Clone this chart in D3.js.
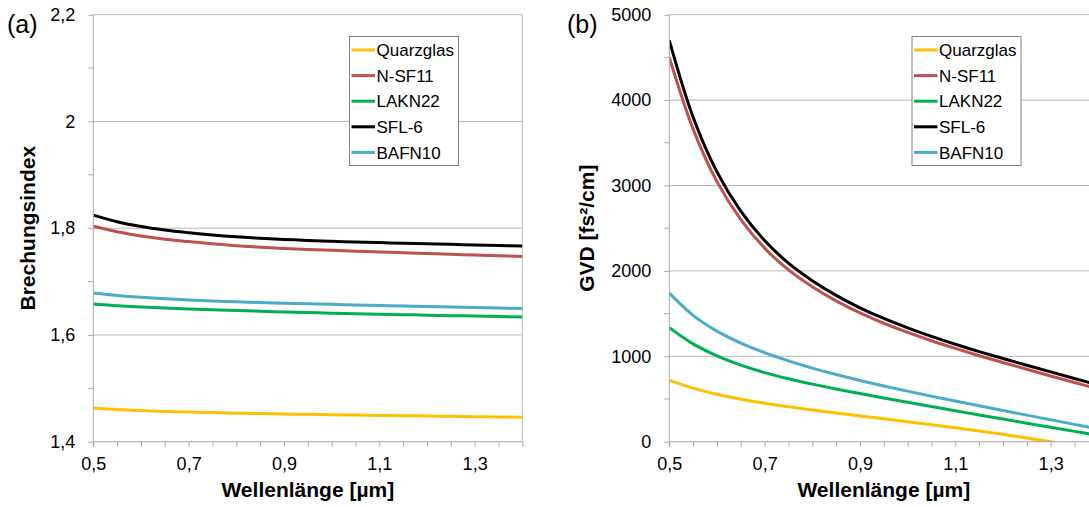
<!DOCTYPE html>
<html><head><meta charset="utf-8">
<script src="https://cdn.jsdelivr.net/npm/d3@7"></script>
<style>
html,body{margin:0;padding:0;background:#fff;}
svg{display:block;font-family:"Liberation Sans",Arial,sans-serif;}
</style></head>
<body>
<svg id="chart" width="1089" height="507"></svg>
<script>
// ---------- data ----------
const wavelengths = [0.5,0.55,0.6,0.65,0.7,0.75,0.8,0.85,0.9,0.95,1.0,1.05,1.1,1.15,1.2,1.25,1.3,1.35,1.4];
const seriesNames = ["Quarzglas","N-SF11","LAKN22","SFL-6","BAFN10"];
const seriesColors = ["#FFC000","#C0504D","#00B050","#000000","#4BACC6"];

// (a) refractive index
const nQuarzglas = [1.4632,1.4603,1.4583,1.4567,1.4555,1.4545,1.4535,1.4527,1.4519,1.4512,1.4505,1.4498,1.4492,1.4487,1.4481,1.4475,1.4469,1.4464,1.4458];
const nNSF11     = [1.8035,1.7935,1.7855,1.7795,1.7750,1.7707,1.7672,1.7644,1.7620,1.7601,1.7585,1.7570,1.7555,1.7540,1.7525,1.7511,1.7497,1.7483,1.7470];
const nLAKN22    = [1.6580,1.6548,1.6523,1.6503,1.6487,1.6472,1.6458,1.6445,1.6432,1.6420,1.6408,1.6398,1.6388,1.6380,1.6371,1.6362,1.6354,1.6346,1.6338];
const nSFL6      = [1.8245,1.8120,1.8030,1.7965,1.7915,1.7872,1.7838,1.7812,1.7790,1.7771,1.7755,1.7742,1.7730,1.7718,1.7707,1.7697,1.7687,1.7677,1.7667];
const nBAFN10    = [1.6785,1.6740,1.6705,1.6678,1.6655,1.6636,1.6620,1.6607,1.6595,1.6584,1.6573,1.6563,1.6553,1.6544,1.6535,1.6525,1.6515,1.6505,1.6495];

// (b) GVD [fs²/cm]
const gvdQuarzglas = [722,627,555,498,451,410,372,336,302,268,234,199,163,126,86,44,-1,-48,-97];
const gvdNSF11     = [4500,3660,3045,2600,2267,2012,1815,1649,1508,1387,1280,1182,1092,1007,927,848,770,693,617];
const gvdLAKN22    = [1335,1145,1005,897,809,737,674,617,564,512,461,411,362,313,265,217,169,121,73];
const gvdSFL6      = [4700,3800,3160,2700,2355,2090,1885,1713,1568,1443,1333,1233,1141,1055,974,895,817,740,664];
const gvdBAFN10    = [1740,1480,1295,1155,1043,947,862,786,717,653,592,533,476,420,365,311,257,203,149];

const xTickLabels = [0.5,0.7,0.9,1.1,1.3];
const xMinorStep = 0.05;
const yTicksA = [1.4,1.6,1.8,2.0,2.2];
const yMinorA = [1.5,1.7,1.9,2.1];
const yTicksB = [0,1000,2000,3000,4000,5000];
const yMinorB = [500,1500,2500,3500,4500];

// ---------- drawing ----------
const svg = d3.select("#chart");
const loc = d3.formatLocale({decimal:",",thousands:"",grouping:[3],currency:["","€"]});
const f1 = loc.format(".1f");
const fInt = loc.format("d");
const fA = v => (Math.abs(v-2)<1e-9 ? "2" : f1(v));

const AXIS = "#a6a6a6", GRID = "#b8b8b8";

function panel(opts){
  const {x, y, data, yFmt, yTicks, yMinor, yTitle, label, labelX, yTitleX, legendX, clipId, rightBorder} = opts;
  const [x0,x1] = x.range(), [yb,yt] = y.range();
  const g = svg.append("g");

  // gridlines
  g.append("g").selectAll("line").data(yTicks.filter(v=>v!==y.domain()[0])).join("line")
    .attr("x1",x0).attr("x2",x1).attr("y1",d=>y(d)).attr("y2",d=>y(d))
    .attr("stroke",GRID).attr("stroke-width",1);
  if(rightBorder){
    g.append("line").attr("x1",x1).attr("x2",x1).attr("y1",yt).attr("y2",yb)
      .attr("stroke",GRID).attr("stroke-width",1);
  }

  // series
  svg.append("clipPath").attr("id",clipId).append("rect")
    .attr("x",x0).attr("y",yt-2).attr("width",x1-x0).attr("height",yb-yt+2);
  const line = d3.line().x((d,i)=>x(wavelengths[i])).y(d=>y(d)).curve(d3.curveCatmullRom.alpha(0.5));
  g.append("g").attr("clip-path",`url(#${clipId})`).selectAll("path").data(data).join("path")
    .attr("d",d=>line(d.values)).attr("fill","none").attr("stroke",d=>d.color)
    .attr("stroke-width",3).attr("stroke-linejoin","round");

  // y axis
  const ya = g.append("g").attr("transform",`translate(${x0},0)`)
    .call(d3.axisLeft(y).tickValues(yTicks).tickSize(5).tickPadding(13).tickFormat(yFmt));
  ya.select(".domain").remove();
  ya.selectAll(".tick line").attr("stroke",AXIS);
  ya.selectAll("text").attr("font-size",18).attr("fill","#000").attr("font-family","Liberation Sans, Arial, sans-serif");
  g.append("g").selectAll("line").data(yMinor).join("line")
    .attr("x1",x0-5).attr("x2",x0).attr("y1",d=>y(d)).attr("y2",d=>y(d)).attr("stroke",AXIS);
  g.append("line").attr("x1",x0).attr("x2",x0).attr("y1",yt).attr("y2",yb+5).attr("stroke",AXIS);

  // x axis
  const nMinor = Math.round((x.domain()[1]-x.domain()[0])/xMinorStep);
  const xt = d3.range(nMinor+1).map(i=>+(x.domain()[0]+i*xMinorStep).toFixed(2));
  const xa = g.append("g").attr("transform",`translate(0,${yb})`)
    .call(d3.axisBottom(x).tickValues(xt).tickSize(5)
      .tickFormat(v=> xTickLabels.some(t=>Math.abs(t-v)<1e-9) ? f1(v) : ""));
  xa.select(".domain").attr("stroke",AXIS).attr("d",`M${x0},0H${x1}`);
  xa.selectAll(".tick line").attr("stroke",AXIS);
  xa.selectAll("text").attr("font-size",18).attr("fill","#000").attr("y",15.5)
    .attr("font-family","Liberation Sans, Arial, sans-serif");

  // titles
  g.append("text").attr("x",(x0+x1)/2).attr("y",497).attr("text-anchor","middle")
    .attr("font-size",21).attr("font-weight","bold").text("Wellenlänge [µm]");
  g.append("text").attr("transform",`translate(${yTitleX},${(yt+yb)/2}) rotate(-90)`)
    .attr("text-anchor","middle").attr("font-size",21).attr("font-weight","bold").text(yTitle);
  g.append("text").attr("x",labelX).attr("y",33).attr("font-size",25).text(label);

  // legend
  const lg = g.append("g").attr("transform",`translate(${legendX},36)`);
  lg.append("rect").attr("x",0.5).attr("y",0.5).attr("width",109).attr("height",129)
    .attr("fill","#fff").attr("stroke","#808080").attr("stroke-width",1);
  const it = lg.selectAll("g.it").data(data).join("g").attr("class","it")
    .attr("transform",(d,i)=>`translate(0,${14+i*25.6})`);
  it.append("line").attr("x1",2.5).attr("x2",26).attr("stroke",d=>d.color).attr("stroke-width",3);
  it.append("text").attr("x",27.5).attr("dy","0.36em").attr("font-size",17).text(d=>d.name);
}

const dataA = [nQuarzglas,nNSF11,nLAKN22,nSFL6,nBAFN10].map((v,i)=>({name:seriesNames[i],color:seriesColors[i],values:v}));
const dataB = [gvdQuarzglas,gvdNSF11,gvdLAKN22,gvdSFL6,gvdBAFN10].map((v,i)=>({name:seriesNames[i],color:seriesColors[i],values:v}));

panel({
  x: d3.scaleLinear([0.5,1.4],[93.3,522.3]),
  y: d3.scaleLinear([1.4,2.2],[441.7,14.7]),
  data: dataA, yFmt: fA, yTicks: yTicksA, yMinor: yMinorA,
  yTitle: "Brechungsindex", label: "(a)", labelX: 7, yTitleX: 35, legendX: 349,
  clipId: "clipA", rightBorder: true
});
panel({
  x: d3.scaleLinear([0.5,1.4],[669.3,1098.3]),
  y: d3.scaleLinear([0,5000],[441.7,14.7]),
  data: dataB, yFmt: fInt, yTicks: yTicksB, yMinor: yMinorB,
  yTitle: "GVD [fs²/cm]", label: "(b)", labelX: 567, yTitleX: 594, legendX: 911.5,
  clipId: "clipB", rightBorder: true
});
</script>
</body></html>
